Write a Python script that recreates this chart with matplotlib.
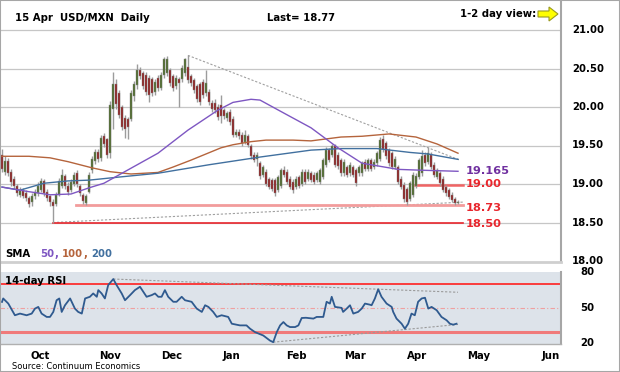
import matplotlib
matplotlib.use('Agg')
import matplotlib.pyplot as plt
import numpy as np
from matplotlib.patches import Rectangle, Polygon
from matplotlib.transforms import blended_transform_factory

# ---------------- data ----------------
opens = [19.38, 19.16, 19.30, 19.16, 19.06, 18.98, 18.86, 18.92, 18.88, 18.82, 18.76, 18.84, 18.88, 18.92, 19.04, 18.90, 18.84, 18.76, 18.74, 18.86,
         18.98, 19.10, 18.98, 18.92, 19.00, 19.14, 18.98, 18.86, 18.75, 18.90, 19.18, 19.30, 19.42, 19.34, 19.62, 19.58, 19.40,
         19.98, 20.30, 20.18, 20.00, 19.86, 19.84, 19.84, 20.14, 20.28, 20.48, 20.44, 20.42, 20.38, 20.36, 20.20, 20.38, 20.25, 20.42,
         20.44, 20.48, 20.40, 20.27, 20.36, 20.36, 20.44, 20.52, 20.40, 20.35, 20.27, 20.30, 20.33, 20.18, 20.20, 20.05, 20.05, 20.00,
         20.03, 19.96, 19.86, 19.94, 19.85, 19.64, 19.68, 19.64, 19.55, 19.62, 19.49, 19.38, 19.33, 19.27, 19.12, 19.16, 19.06, 19.05,
         19.05, 18.92, 18.98, 19.18, 19.16, 19.07, 19.03, 18.96, 19.09, 19.00, 19.16, 19.07, 19.14, 19.12, 19.05, 19.03, 19.09, 19.25,
         19.44, 19.38, 19.49, 19.38,
         19.31, 19.14, 19.22, 19.14, 19.22, 19.18, 19.14, 19.14, 19.29, 19.20, 19.31, 19.22, 19.27, 19.33, 19.58, 19.53, 19.44, 19.40,
         19.22, 19.22, 19.07, 18.99, 18.93, 18.81, 18.86, 18.98, 19.09, 19.14, 19.38, 19.29, 19.38, 19.25, 19.09, 19.14, 19.07, 18.965,
         18.92, 18.86, 18.80, 18.75]
highs = [19.45, 19.36, 19.34, 19.20, 19.10, 19.00, 18.96, 18.95, 18.92, 18.85, 18.88, 18.94, 19.02, 19.08, 19.07, 18.93, 18.86, 18.80, 18.89, 19.08,
         19.19, 19.13, 19.02, 19.06, 19.16, 19.18, 19.00, 18.88, 18.87, 19.16, 19.36, 19.46, 19.46, 19.64, 19.66, 19.60, 20.08,
         20.46, 20.36, 20.22, 20.03, 19.90, 19.87, 20.22, 20.34, 20.56, 20.52, 20.47, 20.45, 20.41, 20.39, 20.37, 20.41, 20.46, 20.65,
         20.66, 20.51, 20.43, 20.41, 20.39, 20.54, 20.64, 20.67, 20.43, 20.38, 20.30, 20.33, 20.36, 20.48, 20.23, 20.09, 20.10, 20.04,
         20.16, 19.99, 19.95, 19.97, 19.88, 19.71, 19.71, 19.67, 19.70, 19.65, 19.52, 19.41, 19.41, 19.30, 19.25, 19.19, 19.09, 19.08,
         19.08, 19.12, 19.21, 19.23, 19.19, 19.10, 19.06, 19.10, 19.12, 19.19, 19.19, 19.19, 19.17, 19.15, 19.17, 19.21, 19.34, 19.48,
         19.47, 19.52, 19.52, 19.41,
         19.34, 19.32, 19.25, 19.28, 19.25, 19.21, 19.25, 19.30, 19.32, 19.34, 19.34, 19.32, 19.43, 19.61, 19.63, 19.56, 19.47, 19.43,
         19.36, 19.25, 19.10, 19.02, 18.96, 19.04, 19.15, 19.14, 19.34, 19.44, 19.41, 19.48, 19.41, 19.28, 19.21, 19.17, 19.10, 18.99,
         18.95, 18.89, 18.83, 18.79]
lows = [19.16, 19.12, 19.10, 18.98, 18.94, 18.84, 18.83, 18.82, 18.78, 18.70, 18.72, 18.80, 18.85, 18.90, 18.85, 18.78, 18.72, 18.50, 18.72, 18.84,
        18.95, 18.94, 18.86, 18.89, 18.97, 18.96, 18.84, 18.74, 18.73, 18.88, 19.14, 19.26, 19.28, 19.30, 19.48, 19.34, 19.34,
        19.72, 19.98, 19.86, 19.70, 19.60, 19.58, 19.82, 20.08, 20.24, 20.36, 20.23, 20.16, 20.06, 20.14, 20.16, 20.21, 20.22, 20.38,
        20.40, 20.27, 20.21, 20.23, 20.00, 20.32, 20.40, 20.31, 20.27, 20.18, 20.06, 20.03, 20.12, 20.14, 20.03, 19.94, 19.92, 19.83,
        19.79, 19.84, 19.82, 19.77, 19.61, 19.61, 19.59, 19.50, 19.52, 19.48, 19.33, 19.28, 19.23, 19.07, 19.09, 18.97, 18.93, 18.91,
        18.85, 18.89, 18.95, 19.09, 19.00, 18.93, 18.88, 18.93, 18.95, 18.97, 19.00, 19.04, 19.02, 19.00, 19.02, 19.00, 19.06, 19.22,
        19.28, 19.35, 19.22, 19.20,
        19.11, 19.11, 19.09, 19.11, 19.09, 18.98, 19.11, 19.11, 19.17, 19.17, 19.17, 19.19, 19.24, 19.30, 19.41, 19.33, 19.24, 19.19,
        19.19, 19.00, 18.93, 18.76, 18.73, 18.78, 18.83, 18.95, 19.06, 19.11, 19.24, 19.26, 19.19, 19.09, 19.06, 18.98, 18.89, 18.85,
        18.80, 18.76, 18.73, 18.74]
closes = [19.20, 19.30, 19.14, 19.02, 18.98, 18.88, 18.92, 18.85, 18.82, 18.74, 18.84, 18.90, 18.98, 19.04, 18.88, 18.82, 18.76, 18.72, 18.86, 19.04,
          19.12, 18.98, 18.90, 19.02, 19.12, 19.00, 18.88, 18.78, 18.84, 19.12, 19.32, 19.42, 19.32, 19.60, 19.52, 19.38, 20.02,
          20.30, 20.04, 19.90, 19.74, 19.72, 19.74, 20.18, 20.30, 20.48, 20.40, 20.27, 20.20, 20.16, 20.18, 20.33, 20.25, 20.42, 20.62,
          20.62, 20.31, 20.25, 20.38, 20.31, 20.50, 20.62, 20.35, 20.31, 20.22, 20.10, 20.07, 20.16, 20.31, 20.07, 19.98, 19.96, 19.87,
          19.88, 19.88, 19.92, 19.80, 19.64, 19.68, 19.62, 19.53, 19.64, 19.51, 19.36, 19.31, 19.38, 19.10, 19.22, 19.00, 18.96, 18.94,
          18.88, 19.09, 19.18, 19.12, 19.03, 18.96, 18.92, 19.07, 18.98, 19.16, 19.03, 19.16, 19.05, 19.03, 19.14, 19.18, 19.31, 19.44,
          19.31, 19.49, 19.25, 19.23,
          19.14, 19.29, 19.12, 19.25, 19.12, 19.01, 19.22, 19.27, 19.20, 19.31, 19.20, 19.29, 19.40, 19.57, 19.46, 19.36, 19.27, 19.22,
          19.33, 19.03, 18.96, 18.80, 18.76, 19.01, 19.12, 19.11, 19.31, 19.36, 19.27, 19.40, 19.22, 19.12, 19.18, 19.01, 18.92, 18.88,
          18.83, 18.79, 18.75, 18.77]

sma50_idx = [0, 9, 16, 23, 29, 34, 40, 52, 62, 72, 77, 83, 86, 94, 103, 112, 120, 132, 139, 152]
sma50_val = [18.96, 18.90, 18.86, 18.87, 18.95, 19.01, 19.14, 19.40, 19.70, 19.96, 20.06, 20.10, 20.09, 19.92, 19.73, 19.47,
             19.27, 19.19, 19.18, 19.165]
sma100_idx = [0, 9, 16, 22, 30, 36, 43, 52, 57, 63, 73, 77, 83, 88, 97, 103, 113, 120, 129, 138, 145, 152]
sma100_val = [19.36, 19.36, 19.34, 19.29, 19.21, 19.16, 19.13, 19.15, 19.22, 19.31, 19.47, 19.51, 19.55, 19.57, 19.57, 19.56,
              19.61, 19.62, 19.65, 19.61, 19.52, 19.40]
sma200_idx = [0, 6, 14, 22, 29, 39, 52, 69, 86, 103, 113, 125, 136, 142, 152]
sma200_val = [18.96, 18.92, 19.01, 19.04, 19.05, 19.09, 19.14, 19.25, 19.35, 19.44, 19.46, 19.46, 19.41, 19.39, 19.32]

rsi_idx = [0, 0.4, 2.1, 4.3, 6, 8.2, 9.9, 11, 12.1, 13.2, 14.9, 16, 17.1, 18.2, 19.1, 19.9, 21, 22.7, 24.3, 25.4, 26.6, 27.7,
           29.3, 30.4, 31.6, 32.1, 33.2, 34.3, 35.4, 37.1, 38.2, 39.9, 41, 42.7, 44.3, 46, 47.1, 48.2, 49.9, 51, 52.1, 53.2,
           54.3, 55.4, 57.1, 58.2, 59.9, 61, 63.2, 64.9, 66.6, 67.7, 68.8, 70.4, 71.6, 73.2, 75.4, 76.6, 79.3, 81.5, 82.7, 84.3,
           87.1, 89.3, 90.4, 91.6, 92.7, 93.8, 94.9, 96, 97.7, 98.8, 99.9, 101.3, 103.8, 104.9, 107.1, 108.2, 109.3, 109.9, 111,
           113.2, 113.7, 114.9, 116, 117.1, 118.7, 119.9, 121, 122.6, 123.2, 124.3, 125.4, 126.5, 128.2, 129.9, 130.4, 131.5,
           133.2, 134.3, 135.4, 136.5, 137.6, 138.7, 139.9, 141, 142.1, 143.2, 144.9, 146.5, 148.2, 149.3, 150.4, 151.5]
rsi_val = [54.9, 57.8, 53.5, 43.7, 45.1, 43.7, 45.1, 49.3, 50.7, 45.1, 42.3, 42.3, 46.5, 56.3, 57.8, 46.5, 52.1, 57.8, 49.3,
           46.5, 45.1, 57.8, 59.2, 62.0, 59.2, 64.8, 62.0, 57.8, 69.0, 74.1, 69.0, 62.0, 56.3, 60.6, 64.8, 67.6, 63.4, 59.2,
           60.6, 62.0, 59.2, 59.2, 64.8, 59.2, 55.0, 55.0, 59.2, 56.3, 55.0, 49.3, 46.5, 52.1, 50.7, 46.5, 42.3, 43.7, 42.3,
           36.6, 35.2, 35.2, 32.4, 29.6, 26.7, 22.5, 21.1, 29.6, 35.2, 38.0, 35.2, 33.8, 33.8, 35.2, 41.4, 41.6, 40.9, 42.3,
           42.3, 55.0, 53.5, 59.2, 50.7, 49.9, 46.5, 49.3, 52.1, 45.1, 46.5, 49.3, 53.5, 52.6, 52.1, 57.8, 65.5, 59.2, 53.5,
           50.7, 46.5, 40.9, 36.6, 32.4, 36.6, 45.1, 43.7, 55.0, 57.8, 58.4, 49.3, 50.7, 47.9, 42.3, 39.5, 36.6, 35.8, 36.6]

months = ['Oct', 'Nov', 'Dec', 'Jan', 'Feb', 'Mar', 'Apr', 'May', 'Jun']
month_idx = [12.7, 36.0, 56.6, 76.6, 98.2, 117.7, 138.4, 159.0, 182.9]
price_ticks = [18.00, 18.50, 19.00, 19.50, 20.00, 20.50, 21.00]
rsi_ticks = [20, 50, 80]

level_1850 = 18.50
level_1873 = 18.73
level_1900 = 19.00
sma50_last = 19.165
last_price = 18.77

trend_hi = ([62, 152.7], [20.67, 19.31])
trend_lo = ([17, 153.7], [18.50, 18.765])
rsi_trend_hi = ([37.1, 152.0], [74.1, 63.0])
rsi_trend_lo = ([90.4, 152.0], [21.1, 36.0])

# ---------------- layout ----------------
W, H = 620, 372
fig = plt.figure(figsize=(6.2, 3.72), dpi=100)
fig.patch.set_facecolor('white')


def fx(px):
    return px / W


def fy(py):
    return 1 - py / H


FONT = 'DejaVu Sans'
FS = 7.3
C50, C100, C200 = '#7e57c2', '#b5643c', '#41709f'
RED = '#e8262d'
XL = (-2 / 3, 559 / 3)

ax = fig.add_axes([0, fy(262), fx(561), fy(0) - fy(262)])
ax.set_xlim(*XL)
ax.set_ylim(21 - 232 / 77, 21 + 30 / 77)
ax.set_xticks([])
ax.set_yticks([])
for s in ['left', 'top']:
    ax.spines[s].set_visible(False)
ax.spines['right'].set_color('#a6a6a6')
ax.spines['right'].set_linewidth(1.5)
ax.spines['bottom'].set_color('#cfcfcf')
ax.spines['bottom'].set_linewidth(2.0)

for v in price_ticks[1:]:
    ax.axhline(v, color='#c6c6c6', lw=0.9, zorder=0)

x = np.arange(len(closes))
o = np.array(opens)
c = np.array(closes)
hi = np.array(highs)
lo = np.array(lows)
up = c >= o
ax.vlines(x, lo, hi, color='#9c9c9c', lw=1.0, zorder=3)
bot = np.minimum(o, c)
hgt = np.maximum(np.abs(c - o), 0.01)
ax.bar(x[up], hgt[up], bottom=bot[up], width=0.72, color='#4d6a2a', edgecolor='#8a8a8a', lw=0.3, zorder=4)
ax.bar(x[~up], hgt[~up], bottom=bot[~up], width=0.72, color='#8e1f1f', edgecolor='#8a8a8a', lw=0.3, zorder=4)

ax.plot(sma100_idx, sma100_val, color=C100, lw=1.0, zorder=5)
ax.plot(sma200_idx, sma200_val, color=C200, lw=1.0, zorder=5)
ax.plot(sma50_idx, sma50_val, color=C50, lw=1.0, zorder=5)

dot = (0, (2, 1.6))
ax.plot(*trend_hi, color='#a0a0a0', lw=0.8, ls=dot, zorder=2)
ax.plot(*trend_lo, color='#a0a0a0', lw=0.8, ls=dot, zorder=2)

end_i = len(closes) + 0.7
ax.plot([17, end_i], [level_1850] * 2, color=RED, lw=1.2, zorder=2)
ax.plot([24.7, end_i], [level_1873] * 2, color='#f29c9c', lw=2.0, zorder=2)
ax.plot([137.7, end_i], [level_1900 - 0.015] * 2, color='#f06464', lw=1.8, zorder=2)

lab_x = end_i + 1.0
tk = dict(fontfamily=FONT, fontweight='bold', fontsize=8.2, va='center', ha='left')
ax.text(lab_x, 19.17, f'{sma50_last:.3f}', color='#7030a0', **tk)
ax.text(lab_x, 18.995, f'{level_1900:.2f}', color=RED, **tk)
ax.text(lab_x, 18.69, f'{level_1873:.2f}', color=RED, **tk)
ax.text(lab_x, 18.48, f'{level_1850:.2f}', color=RED, **tk)

# right-hand price labels
trm = blended_transform_factory(fig.transFigure, ax.transData)
for v in price_ticks:
    fig.text(fx(588), v, f'{v:.2f}', transform=trm, ha='center', va='center',
             fontfamily=FONT, fontweight='bold', fontsize=FS)

# header texts
fig.text(fx(15), fy(18), '15 Apr  USD/MXN  Daily', fontfamily=FONT, fontweight='bold', fontsize=FS, va='center')
fig.text(fx(267), fy(18), f'Last= {last_price:.2f}', fontfamily=FONT, fontweight='bold', fontsize=FS, va='center')
fig.text(fx(536), fy(14), '1-2 day view:', fontfamily=FONT, fontweight='bold', fontsize=FS, va='center', ha='right')
arrow_px = [(538, 11), (549, 11), (549, 7), (558, 14), (549, 21), (549, 17), (538, 17)]
fig.patches.append(Polygon([(fx(a), fy(b)) for a, b in arrow_px], closed=True, transform=fig.transFigure,
                           facecolor='#ffff00', edgecolor='#9a9a20', lw=0.8))

# SMA legend
renderer = fig.canvas.get_renderer()
xp = 5
for s, col, gap in [('SMA', 'black', 10), ('50', C50, 0), (',', C50, 4), ('100', C100, 0), (',', C100, 4), ('200', C200, 0)]:
    t = fig.text(fx(xp), fy(254), s, color=col, fontfamily=FONT, fontweight='bold', fontsize=FS, va='center')
    bb = t.get_window_extent(renderer)
    xp = bb.x1 + gap

# ---------------- RSI panel ----------------
rax = fig.add_axes([0, fy(343.5), fx(561), fy(272) - fy(343.5)])
rax.set_facecolor('#dde3ea')
rax.set_xlim(*XL)
rax.set_ylim(20, 80)
rax.set_xticks([])
rax.set_yticks([])
for s in ['left', 'top']:
    rax.spines[s].set_visible(False)
rax.spines['right'].set_color('#a6a6a6')
rax.spines['right'].set_linewidth(1.5)
rax.spines['bottom'].set_color('#b0b0b0')
rax.spines['bottom'].set_linewidth(1.0)

rax.axhline(70, color='#ff2020', lw=1.2, zorder=1)
rax.axhline(30, color='#f07a7a', lw=2.2, zorder=1)
rax.axhline(50, color='#f0a0a0', lw=0.8, ls=(0, (4, 2, 1, 2)), zorder=1)
rax.plot(*rsi_trend_hi, color='#9a9a9a', lw=0.8, ls=dot, zorder=2)
rax.plot(*rsi_trend_lo, color='#9a9a9a', lw=0.8, ls=dot, zorder=2)
rax.plot(rsi_idx, rsi_val, color='#2f5a8f', lw=1.3, zorder=3)

fig.text(fx(5), fy(280.5), '14-day RSI', fontfamily=FONT, fontweight='bold', fontsize=FS, va='center')

trr = blended_transform_factory(fig.transFigure, rax.transData)
for v in rsi_ticks:
    fig.text(fx(587), v, f'{v}', transform=trr, ha='center', va='center',
             fontfamily=FONT, fontweight='bold', fontsize=FS)

trx = blended_transform_factory(rax.transData, fig.transFigure)
for m, p in zip(months, month_idx):
    fig.text(p, fy(356), m, transform=trx, ha='center', va='center',
             fontfamily=FONT, fontweight='bold', fontsize=FS)

fig.text(fx(12), fy(366.5), 'Source: Continuum Economics', fontfamily=FONT, fontsize=6.0, va='center')

fig.patches.append(Rectangle((0, 0), 1, 1, transform=fig.transFigure, fill=False, edgecolor='#a6a6a6', lw=1.5))

fig.savefig('out.png', dpi=100)
